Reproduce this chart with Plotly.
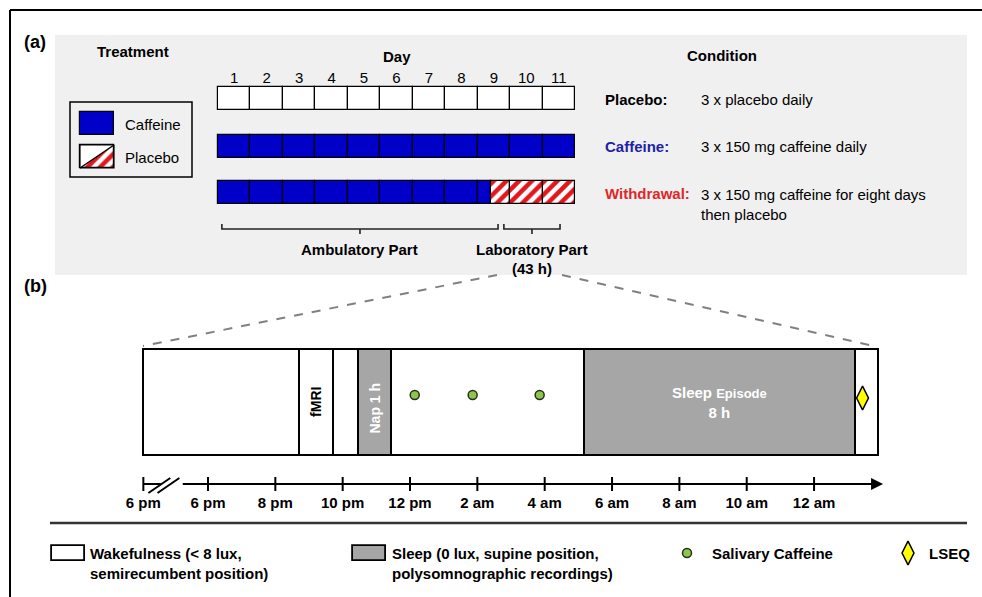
import plotly.graph_objects as go

W, H = 982, 597
FONT = "Liberation Sans, Arial, sans-serif"

# ---------------- data ----------------
days = list(range(1, 12))
day_labels = [str(d) for d in days]
conditions = ["Placebo:", "Caffeine:", "Withdrawal:"]
condition_colors = ["#000000", "#1f1fa8", "#e0262b"]
condition_desc = ["3 x placebo daily", "3 x 150 mg caffeine daily",
                  "3 x 150 mg caffeine for eight days<br>then placebo"]
row_kind = ["placebo_row", "caffeine", "withdrawal"]
withdrawal_switch = 8.4          # day (fraction) at which caffeine is replaced by placebo
ambulatory_span = [0.12, 8.63]   # days
lab_span = [8.81, 10.54]         # days

# panel (b): hours after 6 pm of laboratory entry (first value = broken-axis start)
seg_start = [-1.92, 2.70, 3.71, 4.45, 5.44, 11.17, 19.22]
seg_end = [2.70, 3.71, 4.45, 5.44, 11.17, 19.22, 19.90]
seg_kind = ["wake", "wake", "wake", "sleep", "wake", "sleep", "wake"]
saliva_t = [6.14, 7.86, 9.85]
lseq_t = [19.44]
tick_t = [-1.92, 0, 2, 4, 6, 8, 10, 12, 14, 16, 18]
tick_lab = ["6 pm", "6 pm", "8 pm", "10 pm", "12 pm", "2 am", "4 am", "6 am", "8 am", "10 am", "12 am"]
axis_end_t = 20.05
break_t = [-1.40, -0.75]

# ---------------- layout constants (pixels) ----------------
ROW_Y = [98.5, 146, 192.5]
ROW_H = 23
TL_Y, TL_H = 402, 106
AX_Y = 484
BLUE = "#0000c8"
GRAY = "#a6a6a6"
RED = "#e3161c"
HATCH = dict(shape="/", fgcolor=RED, bgcolor="white", size=9, solidity=0.5, fgopacity=1)

fig = go.Figure()


def hbar(xs, bases, y, h, color, xaxis, pattern=None, lw=1.2, lc="black"):
    marker = dict(color=color, line=dict(color=lc, width=lw))
    if pattern:
        marker["pattern"] = pattern
    fig.add_trace(go.Bar(orientation="h", x=xs, base=bases, y=[y] * len(xs), width=h,
                         marker=marker, xaxis=xaxis, yaxis="y", showlegend=False,
                         hoverinfo="skip"))


# ---- panel (a) day rows ----
for r, kind in enumerate(row_kind):
    y = ROW_Y[r]
    if kind == "placebo_row":
        hbar([1] * len(days), [d - 1 for d in days], y, ROW_H, "white", "x")
    elif kind == "caffeine":
        hbar([1] * len(days), [d - 1 for d in days], y, ROW_H, BLUE, "x")
    else:
        bx, bb, hx, hb = [], [], [], []
        for d in days:
            s, e = d - 1, d
            if e <= withdrawal_switch:
                bx.append(1); bb.append(s)
            elif s < withdrawal_switch:
                bx.append(withdrawal_switch - s); bb.append(s)
                hx.append(e - withdrawal_switch); hb.append(withdrawal_switch)
            else:
                hx.append(1); hb.append(s)
        hbar(bx, bb, y, ROW_H, BLUE, "x")
        hbar(hx, hb, y, ROW_H, "white", "x", pattern=HATCH)

# ---- panel (a) legend icons (pixel axis x3) ----
hbar([34], [80], 123.5, 23, BLUE, "x3")
hbar([34], [80], 156.5, 23, "white", "x3", pattern=HATCH)

# ---- panel (b) timeline ----
for s, e, k in zip(seg_start, seg_end, seg_kind):
    hbar([e - s], [s], TL_Y, TL_H, GRAY if k == "sleep" else "white", "x2", lw=2)

fig.add_trace(go.Scatter(x=saliva_t, y=[395] * len(saliva_t), mode="markers", xaxis="x2", yaxis="y",
                         marker=dict(size=9, color="#8ec450", line=dict(color="#253015", width=1.5)),
                         showlegend=False, hoverinfo="skip"))
fig.add_trace(go.Scatter(x=lseq_t, y=[398] * len(lseq_t), mode="markers", xaxis="x2", yaxis="y",
                         marker=dict(size=17, symbol="diamond-tall", color="#ffff00",
                                     line=dict(color="black", width=1.5)),
                         showlegend=False, hoverinfo="skip"))

# time axis line with break
fig.add_trace(go.Scatter(x=[tick_t[0], break_t[0]], y=[AX_Y, AX_Y], mode="lines", xaxis="x2", yaxis="y",
                         line=dict(color="black", width=2), showlegend=False, hoverinfo="skip"))
fig.add_trace(go.Scatter(x=[break_t[1], axis_end_t - 0.3], y=[AX_Y, AX_Y], mode="lines", xaxis="x2", yaxis="y",
                         line=dict(color="black", width=2), showlegend=False, hoverinfo="skip"))
for off in (-0.17, 0.1):
    fig.add_trace(go.Scatter(x=[break_t[0] + off - 0.2, break_t[0] + off + 0.45],
                             y=[AX_Y + 9, AX_Y - 6], mode="lines", xaxis="x2", yaxis="y",
                             line=dict(color="black", width=2), showlegend=False, hoverinfo="skip"))
fig.add_trace(go.Scatter(x=tick_t, y=[AX_Y] * len(tick_t), mode="markers", xaxis="x2", yaxis="y",
                         marker=dict(symbol="line-ns", size=10, line=dict(color="black", width=2)),
                         showlegend=False, hoverinfo="skip"))

# ---- bottom legend ----
hbar([33], [52], 553.5, 15, "white", "x3", lw=1.8)
hbar([33], [353], 553.5, 15, GRAY, "x3", lw=1.8)
fig.add_trace(go.Scatter(x=[687], y=[553], mode="markers", xaxis="x3", yaxis="y",
                         marker=dict(size=9, color="#8ec450", line=dict(color="#253015", width=1.5)),
                         showlegend=False, hoverinfo="skip"))
fig.add_trace(go.Scatter(x=[908], y=[553], mode="markers", xaxis="x3", yaxis="y",
                         marker=dict(size=17, symbol="diamond-tall", color="#ffff00",
                                     line=dict(color="black", width=1.5)),
                         showlegend=False, hoverinfo="skip"))

# ---------------- shapes ----------------
shapes = []
shapes.append(dict(type="rect", xref="x3", yref="y", x0=55, x1=967, y0=35, y1=275,
                   fillcolor="#f0f0f0", line=dict(width=0), layer="below"))
shapes.append(dict(type="line", xref="x3", yref="y", x0=10, x1=982, y0=10, y1=10,
                   line=dict(color="black", width=2)))
shapes.append(dict(type="line", xref="x3", yref="y", x0=10, x1=10, y0=10, y1=597,
                   line=dict(color="black", width=2)))
shapes.append(dict(type="rect", xref="x3", yref="y", x0=70, x1=192, y0=102, y1=177,
                   line=dict(color="black", width=1.5)))
shapes.append(dict(type="path", xref="x3", yref="y", path="M 80,145 L 114,145 L 80,168 Z",
                   fillcolor="white", line=dict(width=0)))
shapes.append(dict(type="rect", xref="x3", yref="y", x0=80, x1=114, y0=145, y1=168,
                   line=dict(color="black", width=1.2)))
shapes.append(dict(type="line", xref="x3", yref="y", x0=80, x1=114, y0=168, y1=145,
                   line=dict(color="black", width=1.5)))
for s, e in (ambulatory_span, lab_span):
    c = (s + e) / 2
    shapes.append(dict(type="path", xref="x", yref="y",
                       path=f"M {s},224 L {s},229 L {e},229 L {e},224",
                       line=dict(color="#222222", width=1.6)))
    shapes.append(dict(type="line", xref="x", yref="y", x0=c, x1=c, y0=229, y1=234,
                       line=dict(color="#222222", width=1.6)))
shapes.append(dict(type="line", xref="x3", yref="y", x0=497, y0=275, x1=143, y1=346,
                   line=dict(color="#808080", width=2, dash="dash")))
shapes.append(dict(type="line", xref="x3", yref="y", x0=562, y0=275, x1=878, y1=347,
                   line=dict(color="#808080", width=2, dash="dash")))
shapes.append(dict(type="line", xref="x3", yref="y", x0=50, x1=967, y0=523, y1=523,
                   line=dict(color="#333333", width=2.5)))

# ---------------- annotations ----------------
ann = []


def txt(x, y, s, size=15, bold=False, color="black", xanchor="left", xref="x3", angle=0):
    ann.append(dict(x=x, y=y, xref=xref, yref="y", text=f"<b>{s}</b>" if bold else s,
                    showarrow=False, xanchor=xanchor, yanchor="middle", textangle=angle,
                    font=dict(family=FONT, size=size, color=color), align="left"))


txt(22, 42, "(a)", 18, True)
txt(22, 286, "(b)", 18, True)
txt(133, 51, "Treatment", 15, True, xanchor="center")
txt(397, 56, "Day", 15, True, xanchor="center")
txt(722, 55, "Condition", 15, True, xanchor="center")
txt(123, 124, "Caffeine", 15)
txt(123, 157, "Placebo", 15)
for r in range(3):
    txt(603, ROW_Y[r] + 0.5, conditions[r], 15, True, condition_colors[r])
txt(699, ROW_Y[0] + 0.5, condition_desc[0], 15)
txt(699, ROW_Y[1] + 0.5, condition_desc[1], 15)
ann.append(dict(x=699, y=ROW_Y[2] - 9, xref="x3", yref="y", text=condition_desc[2], showarrow=False,
                xanchor="left", yanchor="top", align="left",
                font=dict(family=FONT, size=15, color="black")))
txt(sum(ambulatory_span) / 2, 249, "Ambulatory Part", 15, True, xanchor="center", xref="x")
txt(sum(lab_span) / 2, 249, "Laboratory Part", 15, True, xanchor="center", xref="x")
txt(sum(lab_span) / 2, 268, "(43 h)", 15, True, xanchor="center", xref="x")

txt((seg_start[1] + seg_end[1]) / 2, TL_Y, "fMRI", 14, True, xanchor="center", xref="x2", angle=-90)
txt((seg_start[3] + seg_end[3]) / 2, TL_Y + 6, "Nap 1 h", 14, True, "white", xanchor="center",
    xref="x2", angle=-90)
ann.append(dict(x=(seg_start[5] + seg_end[5]) / 2, y=TL_Y, xref="x2", yref="y",
                text="<b>Sleep <span style='font-size:13px'>Episode</span></b><br><b>8 h</b>",
                showarrow=False, xanchor="center", yanchor="middle", align="center",
                font=dict(family=FONT, size=15, color="white")))

txt(88, 553, "Wakefulness (< 8 lux,<br>semirecumbent position)", 15, True)
ann[-1]["yanchor"] = "top"; ann[-1]["y"] = 543
txt(390, 553, "Sleep (0 lux, supine position,<br>polysomnographic recordings)", 15, True)
ann[-1]["yanchor"] = "top"; ann[-1]["y"] = 543
txt(710, 553, "Salivary Caffeine", 15, True)
txt(927, 553, "LSEQ", 15, True)

# arrowhead of time axis
ann.append(dict(x=axis_end_t, y=AX_Y, xref="x2", yref="y", ax=axis_end_t - 0.6, ay=AX_Y,
                axref="x2", ayref="y", showarrow=True, arrowhead=2, arrowsize=1.2,
                arrowwidth=2, arrowcolor="black", text=""))

fig.update_layout(
    width=W, height=H, margin=dict(l=0, r=0, t=0, b=0, pad=0),
    paper_bgcolor="white", plot_bgcolor="white", barmode="overlay", bargap=0,
    shapes=shapes, annotations=ann,
    xaxis=dict(range=[-218 / 32.45, -218 / 32.45 + W / 32.45], side="top", anchor="free",
               position=1 - 86 / H, tickvals=[d - 0.5 for d in days], ticktext=day_labels,
               ticks="", showline=False, showgrid=False, zeroline=False,
               tickfont=dict(family=FONT, size=15, color="black"), fixedrange=True),
    xaxis2=dict(range=[-208 / 33.67, -208 / 33.67 + W / 33.67], overlaying="x", anchor="free",
                position=1 - AX_Y / H, side="bottom", tickvals=tick_t,
                ticktext=[f"<b>{t}</b>" for t in tick_lab],
                ticks="outside", ticklen=5, tickcolor="rgba(0,0,0,0)", showline=False,
                showgrid=False, zeroline=False,
                tickfont=dict(family=FONT, size=15, color="black"), fixedrange=True),
    xaxis3=dict(range=[0, W], overlaying="x", visible=False, fixedrange=True),
    yaxis=dict(range=[H, 0], visible=False, domain=[0, 1], fixedrange=True),
)

fig.write_html("out.html", config={"displayModeBar": False},
               post_script="document.body.style.margin='0';document.body.style.overflow='hidden';")
